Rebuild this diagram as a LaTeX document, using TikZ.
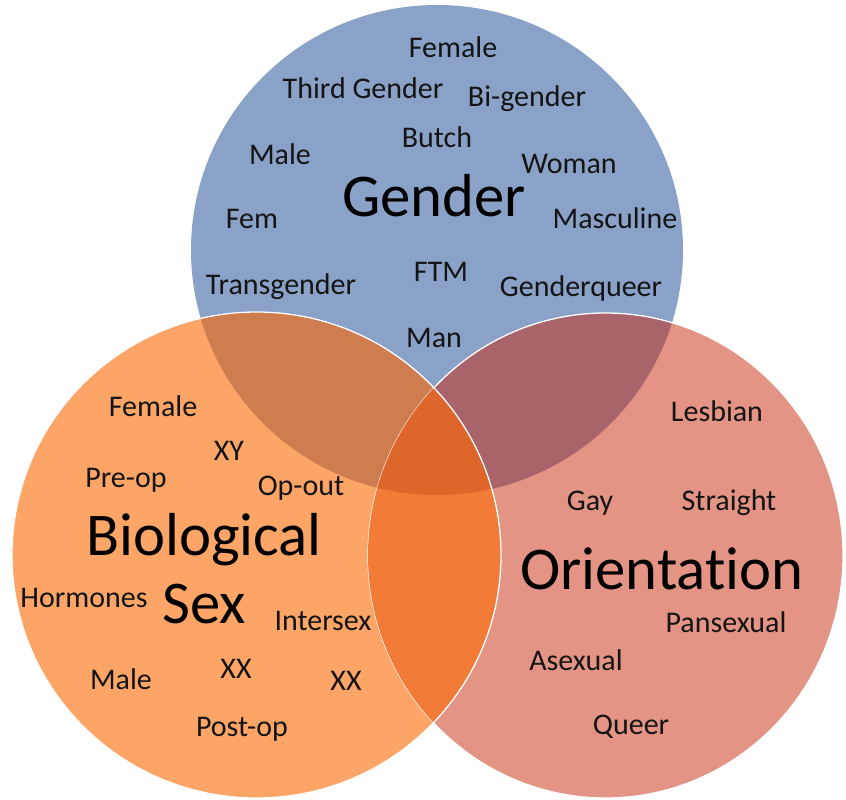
\documentclass[tikz,border=0pt]{standalone}
\usepackage{fontspec}
\setmainfont{Carlito}[Ligatures={NoCommon}]

\definecolor{gendercol}{HTML}{8AA2C8}
\definecolor{sexcol}{HTML}{FCA567}
\definecolor{orientcol}{HTML}{E49485}
\definecolor{gendersexcol}{HTML}{CF7D4F}
\definecolor{genderorientcol}{HTML}{A8646A}
\definecolor{sexorientcol}{HTML}{F27B37}
\definecolor{allcol}{HTML}{DE662B}
\definecolor{inkcol}{HTML}{141414}

% the three sets
\newcommand\genderset{(437,250) ellipse[x radius=246, y radius=245]}
\newcommand\sexset{(256.5,555) ellipse[x radius=244.5, y radius=243]}
\newcommand\orientset{(605.5,555.5) ellipse[x radius=237.5, y radius=242.5]}

\tikzset{
  word/.style={anchor=base, inner sep=0pt, text=inkcol,
    font=\fontsize{25.6}{30}\selectfont},
  topic/.style={anchor=base, inner sep=0pt, text=black,
    font=\fontsize{51.8}{60}\selectfont},
  rim/.style={draw=white, line width=1.1pt}
}

\begin{document}
\begin{tikzpicture}[x=0.03cm, y=-0.03cm]
    \useasboundingbox (0,0) rectangle (846,799);

    % Circles
    \fill[gendercol] \genderset;
    \fill[orientcol] \orientset;
    \fill[sexcol] \sexset;

    % Overlaps with gender
    \begin{scope}
        \clip \genderset;
        \fill[genderorientcol] \orientset;
        \fill[gendersexcol] \sexset;
    \end{scope}
    \path[rim] \orientset;

    % Overlap of sex and orientation, and the centre
    \begin{scope}
        \clip \sexset;
        \fill[sexorientcol] \orientset;
        \clip \genderset;
        \fill[allcol] \orientset;
    \end{scope}
    \path[rim] \sexset;

    % Gender words
    \node[topic] (gender) at (434,216) {Gender};
    \node[word] (g-female) at (453,57) {Female};
    \node[word] (g-third) at (363,98) {Third Gender};
    \node[word] (g-bigender) at (527,106) {Bi-gender};
    \node[word] (g-butch) at (437,147) {Butch};
    \node[word] (g-male) at (280,164) {Male};
    \node[word] (g-woman) at (569,173) {Woman};
    \node[word] (g-fem) at (252,228) {Fem};
    \node[word] (g-masculine) at (615,228) {Masculine};
    \node[word] (g-ftm) at (441,281) {FTM};
    \node[word] (g-trans) at (281,294) {Transgender};
    \node[word] (g-queer) at (581,296) {Genderqueer};
    \node[word] (g-man) at (434,347) {Man};

    % Biological sex words
    \node[topic] (sex-a) at (204,555) {Biological};
    \node[topic] (sex-b) at (204,623) {Sex};
    \node[word] (s-female) at (153,416) {Female};
    \node[word] (s-xy) at (229,460) {XY};
    \node[word] (s-preop) at (126,487) {Pre-op};
    \node[word] (s-opout) at (301,495) {Op-out};
    \node[word] (s-hormones) at (84,607) {Hormones};
    \node[word] (s-intersex) at (323,630) {Intersex};
    \node[word] (s-xx-a) at (236,678) {XX};
    \node[word] (s-male) at (121,689) {Male};
    \node[word] (s-xx-b) at (346,690) {XX};
    \node[word] (s-postop) at (242,736) {Post-op};

    % Orientation words
    \node[topic] (orient) at (662,589) {Orientation};
    \node[word] (o-lesbian) at (717,421) {Lesbian};
    \node[word] (o-gay) at (590,510) {Gay};
    \node[word] (o-straight) at (729,510) {Straight};
    \node[word] (o-pan) at (726,632) {Pansexual};
    \node[word] (o-asexual) at (576,670) {Asexual};
    \node[word] (o-queer) at (631,734) {Queer};

\end{tikzpicture}
\end{document}
